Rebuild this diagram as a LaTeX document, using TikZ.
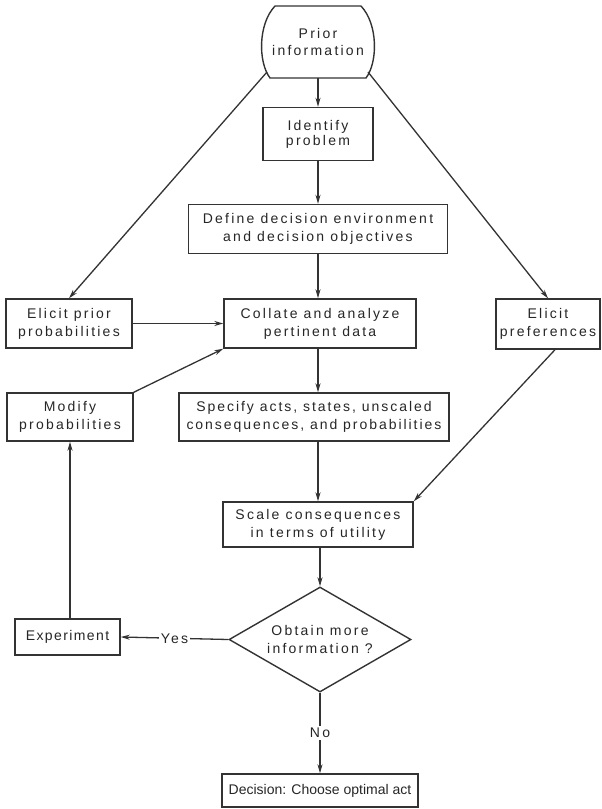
\documentclass[tikz,border=0pt]{standalone}
\usepackage{fontspec}
\setmainfont{Liberation Sans}[LetterSpace=16]
\usetikzlibrary{arrows.meta,shapes.geometric,calc}

\colorlet{ink}{black!80}

\begin{document}
\begin{tikzpicture}[x=1pt,y=-1pt,
  every node/.style={font=\fontsize{14}{18}\selectfont, text=black!85},
  box/.style={draw=ink, line width=1.4pt, rectangle, inner sep=0pt, align=center},
  flow/.style={draw=ink, line width=1.3pt, -{Stealth[length=9pt,width=5pt]}},
  tag/.style={fill=white, inner sep=2pt}
]
\useasboundingbox (0,0) rectangle (602,809);

% source of prior knowledge: barrel-shaped terminal
\draw[ink, line width=1.4pt] (275,6) -- (361,6)
  .. controls (378,24) and (378,62) .. (366,78) -- (270,78)
  .. controls (258,62) and (258,24) .. (275,6) -- cycle;
\node[align=center, font=\fontsize{14}{17}\selectfont] (prior) at (318,42) {Prior\\information};
\coordinate (priorB) at (318,78);
\coordinate (priorL) at (267,72);
\coordinate (priorR) at (368,72);

% process boxes
\node[box, minimum width=110pt, minimum height=53pt, font=\fontsize{14}{15}\selectfont] (identify) at (318,134) {Identify\\problem};
\node[box, minimum width=259pt, minimum height=49pt] (define) at (318,229) {Define decision environment\\and decision objectives};
\node[box, minimum width=126pt, minimum height=49pt] (elicitprior) at (69,323.5) {Elicit prior\\probabilities};
\node[box, minimum width=192pt, minimum height=49pt] (collate) at (320,323.5) {Collate and analyze\\pertinent data};
\node[box, minimum width=104pt, minimum height=50pt] (elicitpref) at (548,324) {Elicit\\preferences};
\node[box, minimum width=126pt, minimum height=48pt] (modify) at (70,417) {Modify\\probabilities};
\node[box, minimum width=270pt, minimum height=48pt, font=\fontsize{14}{18}\selectfont\addfontfeatures{LetterSpace=14}] (specify) at (314,417) {Specify acts, states, unscaled\\consequences, and probabilities};
\node[box, minimum width=190pt, minimum height=45pt] (scale) at (318,524.5) {Scale consequences\\in terms of utility};
\node[draw=ink, line width=1.4pt, diamond, aspect=1.73, inner sep=0pt,
      minimum width=182pt, minimum height=105pt, align=center] (decide) at (320,639.5) {Obtain more\\information ?};
\node[box, minimum width=105pt, minimum height=36pt, font=\fontsize{14}{18}\selectfont\addfontfeatures{LetterSpace=10}] (experiment) at (67.5,637) {Experiment};
\node[box, minimum width=196pt, minimum height=33pt, font=\fontsize{14}{18}\selectfont\addfontfeatures{LetterSpace=0}] (decision) at (320,790.5) {Decision: Choose optimal act};

% connectors
\draw[flow] (priorB) -- (identify.north);
\draw[flow] (identify.south) -- (identify.south |- define.north);
\draw[flow] (define.south) -- (define.south |- collate.north);
\draw[flow] (priorL) -- (elicitprior.north);
\draw[flow] (priorR) -- (elicitpref.north);
\draw[flow] (elicitprior.east) -- (collate.west);
\draw[flow] (modify.north east) -- (collate.south west);
\draw[flow] (collate.south -| define.south) -- (define.south |- specify.north);
\draw[flow] (specify.south -| define.south) -- (define.south |- scale.north);
\draw[flow] ($(elicitpref.south)+(7,0)$) -- (scale.north east);
\draw[flow] (scale.south -| decide.north) -- (decide.north);
\draw[flow] (decide.west) -- node[tag] {Yes} (experiment.east);
\draw[flow] (decide.south) -- node[tag] {No} (decision.north);
\draw[flow] (experiment.north -| modify.south) -- (modify.south);
\end{tikzpicture}
\end{document}
